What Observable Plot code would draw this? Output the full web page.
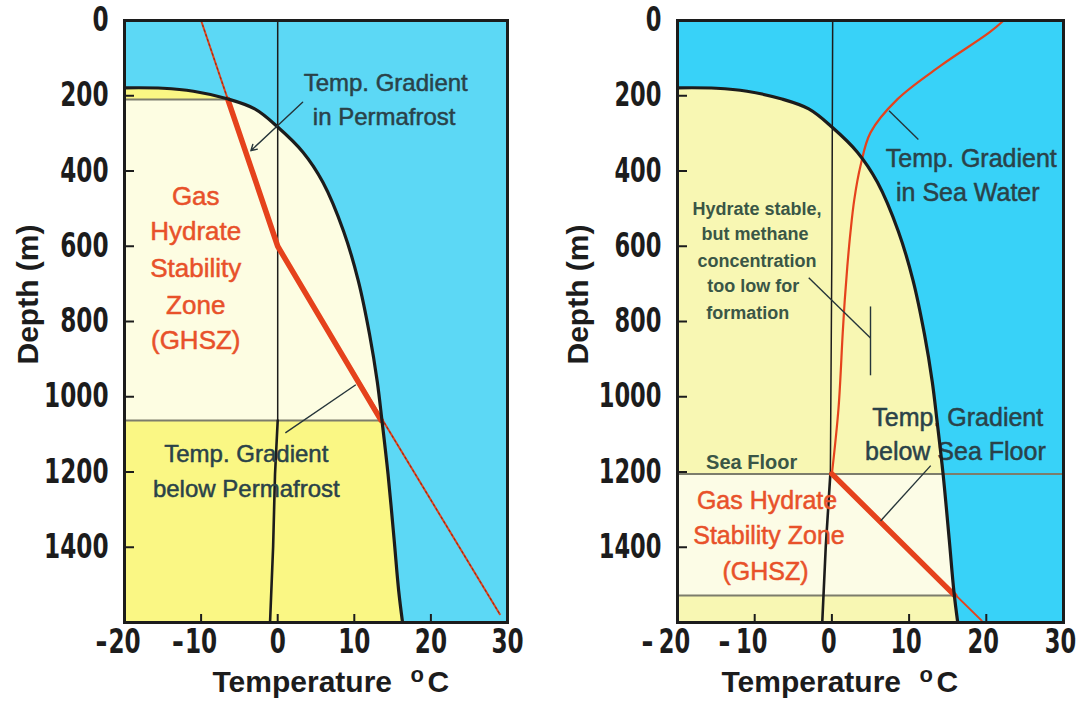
<!DOCTYPE html>
<html><head><meta charset="utf-8">
<script src="https://cdn.jsdelivr.net/npm/d3@7"></script>
<script src="https://cdn.jsdelivr.net/npm/@observablehq/plot@0.6"></script>
<style>
html,body{margin:0;padding:0;background:#fff;}
#wrap{display:flex;width:1082px;height:708px;}
#wrap svg{display:block;}
</style></head><body><div id="wrap"></div>
<script>
// ---------- data ----------
const xTicks = [-20, -10, 0, 10, 20, 30];
const yTicks = [0, 200, 400, 600, 800, 1000, 1200, 1400];

// hydrate phase boundary (temperature °C, depth m)
const phaseTemp  = [-20, -15, -11, -6.6, -3, 0, 3.3, 5.9, 8.6, 10.5, 12, 13, 13.6, 14.4, 15.2, 15.8, 16.3];
const phaseDepth = [179, 180, 188, 208, 235, 283, 350, 430, 560, 690, 835, 960, 1061, 1205, 1380, 1517, 1600];

// left: permafrost
const gradLTemp = [-10, 0, 29];
const gradLDepth = [0, 600, 1578];
const ghszLTemp = [-6.5, 0, 13.5];
const ghszLDepth = [210, 600, 1063];
const ghszLBounds = [210, 1063];
const zeroLUpTemp = [0, 0], zeroLUpDepth = [0, 1063];
const zeroLLowTemp = [0, -0.35, -0.6, -1.0], zeroLLowDepth = [1063, 1206, 1400, 1600];
const leadersL = [[1.0, 1096, 10.2, 968]];
const arrowsL = [[3.25, 217, -3.5, 346]];
const darkTextL = [["Temp. Gradient", 14.1, 168], ["in Permafrost", 13.9, 257], ["Temp. Gradient", -4.1, 1153], ["below Permafrost", -4.1, 1245]];
const redTextL = [["Gas", -10.7, 467], ["Hydrate", -10.7, 561], ["Stability", -10.7, 659], ["Zone", -10.7, 757], ["(GHSZ)", -10.7, 851]];

// right: marine
const swTemp  = [22.25, 20.45, 14.1, 8.5, 5.0, 3.7, 2.9, 2.4, 2.0, 1.67, 1.4, 0.86, 0];
const swDepth = [0, 31, 120, 209, 298, 387, 476, 564, 653, 742, 831, 1030, 1205];
const belowTemp = [0, 19.4], belowDepth = [1205, 1595];
const ghszRTemp = [0, 15.9], ghszRDepth = [1205, 1528];
const seaFloor = [1205];
const ghszRBase = [1528];
const zeroRUpTemp = [0.1, 0, -0.2], zeroRUpDepth = [0, 600, 1205];
const zeroRLowTemp = [-0.2, -0.8, -1.25], zeroRLowDepth = [1205, 1400, 1600];
const leadersR = [[11.2, 316, 7.4, 240], [-3.0, 684, 5.0, 844], [5.0, 760, 5.0, 943], [12.8, 1183, 6.3, 1330]];
const darkTextR = [["Temp. Gradient", 18.06, 369], ["in Sea Water", 17.6, 458], ["Temp. Gradient", 16.3, 1057], ["below Sea Floor", 16.0, 1148]];
const noteTextR = [["Hydrate stable,", -9.7, 502], ["but methane", -9.95, 569], ["concentration", -9.7, 640], ["too low for", -10.2, 707], ["formation", -10.9, 778]];
const seaFloorText = [["Sea Floor", -10.4, 1174]];
const redTextR = [["Gas Hydrate", -8.4, 1278], ["Stability Zone", -8.15, 1370], ["(GHSZ)", -8.6, 1465]];

// ---------- helpers ----------
const NUM = "'Liberation Sans Narrow','Arial Narrow','DejaVu Sans Condensed',sans-serif";
const SANS = "'Liberation Sans',Arial,Helvetica,sans-serif";
const INK = "#1c1c1c";
const DARK = "#2a4249";
const GREEN = "#3a5646";
const RED = "#E8512A";
const LINE_RED = "#E5421C";
const GRAY = "#7c7d6c";
const pts = (xs, ys) => xs.map((x, i) => ({x, y: ys[i]}));
const phase = pts(phaseTemp, phaseDepth);

function texts(arr, o) {
  return Plot.text(arr, {x: d => d[1], y: d => d[2], text: d => d[0], ...o});
}

function axes(minusDx, labelDx, depthDx, tempDx) {
  const num = {fontSize: 33, fontWeight: "bold", fontFamily: NUM};
  return [
    Plot.frame({stroke: INK, strokeWidth: 3}),
    Plot.axisY({ticks: yTicks, tickSize: -10, tickPadding: 26, tickFormat: d => String(d),
      ...num, color: INK, strokeWidth: 2, label: null}),
    Plot.axisX({ticks: xTicks, tickSize: -8, tickFormat: () => "", color: INK, strokeWidth: 2, label: null}),
    Plot.axisX({ticks: xTicks, tickSize: 0, tickPadding: 7, dx: labelDx, tickFormat: d => String(Math.abs(d)),
      ...num, color: INK, label: null}),
    Plot.text(xTicks.filter(d => d < 0), {x: d => d, frameAnchor: "bottom", text: () => "-",
      textAnchor: "end", lineAnchor: "top", dx: minusDx + labelDx, dy: 7, ariaLabel: "minus",
      ...num, fill: INK}),
    Plot.text(["Depth (m)"], {frameAnchor: "left", text: d => d, rotate: -90, textAnchor: "middle",
      dx: depthDx, dy: -27, fontSize: 30, fontWeight: "bold", fontFamily: SANS, fill: INK}),
    Plot.text(["Temperature"], {frameAnchor: "bottom", text: d => d, textAnchor: "start", lineAnchor: "bottom",
      dx: tempDx, dy: 69, fontSize: 30, fontWeight: "bold", fontFamily: SANS, fill: INK}),
    Plot.text(["o"], {frameAnchor: "bottom", text: d => d, textAnchor: "start", lineAnchor: "bottom",
      dx: tempDx + 198, dy: 59, fontSize: 22, fontWeight: "bold", fontFamily: SANS, fill: INK}),
    Plot.text(["C"], {frameAnchor: "bottom", text: d => d, textAnchor: "start", lineAnchor: "bottom",
      dx: tempDx + 215, dy: 69, fontSize: 30, fontWeight: "bold", fontFamily: SANS, fill: INK})
  ];
}

// narrow the heavy tick numerals (the reference uses a condensed face) without moving them
function condense(svg, k) {
  const labels = ["y-axis tick label", "x-axis tick label", "minus"];
  d3.select(svg).selectAll("g").filter(function () {
    return labels.includes(this.getAttribute("aria-label"));
  }).selectAll("text").each(function () {
    const w = this.getComputedTextLength();
    if (w > 0) {
      this.setAttribute("textLength", (w * k).toFixed(2));
      this.setAttribute("lengthAdjust", "spacingAndGlyphs");
    }
  });
}

const common = {
  width: 541, height: 708, marginTop: 20, marginBottom: 86,
  x: {domain: [-20, 30]},
  y: {domain: [0, 1600], reverse: true},
  style: {background: "transparent", overflow: "visible"}
};
const semi = c => ({fill: c, stroke: c, strokeWidth: 0.5});

// ---------- left panel ----------
const blueL = "#5CD8F5", yellowL = "#FAF784", creamL = "#FDFDE2";
const left = Plot.plot({
  ...common, marginLeft: 124, marginRight: 34,
  marks: [
    Plot.frame({fill: blueL}),
    Plot.areaX(phase, {y: "y", x1: -20, x2: "x", fill: yellowL, curve: "catmull-rom"}),
    Plot.rect([ghszLBounds], {x1: -20, x2: 30, y1: d => d[0], y2: d => d[1], fill: creamL}),
    Plot.ruleY(ghszLBounds, {x1: -20, x2: 30, stroke: GRAY, strokeWidth: 2}),
    Plot.areaX(phase, {y: "y", x1: "x", x2: 30, fill: blueL, curve: "catmull-rom"}),
    Plot.line(pts(zeroLUpTemp, zeroLUpDepth), {x: "x", y: "y", stroke: INK, strokeWidth: 1.5}),
    Plot.line(pts(zeroLLowTemp, zeroLLowDepth), {x: "x", y: "y", stroke: INK, strokeWidth: 2.6}),
    Plot.line(pts(gradLTemp, gradLDepth), {x: "x", y: "y", stroke: LINE_RED, strokeWidth: 2}),
    Plot.line(pts(gradLTemp, gradLDepth), {x: "x", y: "y", stroke: "#5b2418", strokeWidth: 1.2, strokeDasharray: "1.5,3.5", strokeOpacity: 0.6}),
    Plot.line(pts(ghszLTemp, ghszLDepth), {x: "x", y: "y", stroke: LINE_RED, strokeWidth: 5.5, strokeLinecap: "round"}),
    texts(darkTextL, {...semi(DARK), fontSize: 24, fontFamily: SANS}),
    texts(redTextL, {...semi(RED), fontSize: 26, fontFamily: SANS}),
    Plot.line(phase, {x: "x", y: "y", stroke: INK, strokeWidth: 3.2, curve: "catmull-rom"}),
    Plot.link(leadersL, {x1: d => d[0], y1: d => d[1], x2: d => d[2], y2: d => d[3], stroke: "#26353a", strokeWidth: 1.4}),
    Plot.arrow(arrowsL, {x1: d => d[0], y1: d => d[1], x2: d => d[2], y2: d => d[3], stroke: "#26353a", strokeWidth: 1.4, headLength: 7, bend: 0}),
    ...axes(-17, 0, -96, -103.5)
  ]
});

// ---------- right panel ----------
const blueR = "#38D2F8", yellowR = "#F8F7B3", creamR = "#FCFCE6";
const right = Plot.plot({
  ...common, marginLeft: 136, marginRight: 19,
  marks: [
    Plot.frame({fill: blueR}),
    Plot.areaX(phase, {y: "y", x1: -20, x2: "x", fill: yellowR, curve: "catmull-rom"}),
    Plot.rect([[seaFloor[0], ghszRBase[0]]], {x1: -20, x2: 30, y1: d => d[0], y2: d => d[1], fill: creamR}),
    Plot.ruleY(ghszRBase, {x1: -20, x2: 30, stroke: GRAY, strokeWidth: 2}),
    Plot.areaX(phase, {y: "y", x1: "x", x2: 30, fill: blueR, curve: "catmull-rom"}),
    Plot.ruleY(seaFloor, {x1: -20, x2: 30, stroke: GRAY, strokeWidth: 2}),
    Plot.line(pts(zeroRUpTemp, zeroRUpDepth), {x: "x", y: "y", stroke: INK, strokeWidth: 1.5}),
    Plot.line(pts(zeroRLowTemp, zeroRLowDepth), {x: "x", y: "y", stroke: INK, strokeWidth: 2.6}),
    Plot.line(pts(swTemp, swDepth), {x: "x", y: "y", stroke: LINE_RED, strokeWidth: 2.2, curve: "catmull-rom"}),
    Plot.line(pts(belowTemp, belowDepth), {x: "x", y: "y", stroke: LINE_RED, strokeWidth: 2}),
    Plot.line(pts(ghszRTemp, ghszRDepth), {x: "x", y: "y", stroke: LINE_RED, strokeWidth: 5.5, strokeLinecap: "round"}),
    texts(darkTextR, {...semi(DARK), fontSize: 25, fontFamily: SANS}),
    texts(noteTextR, {fill: GREEN, fontSize: 18, fontWeight: "bold", fontFamily: SANS}),
    texts(seaFloorText, {fill: GREEN, fontSize: 20, fontWeight: "bold", fontFamily: SANS}),
    texts(redTextR, {...semi(RED), fontSize: 25, fontFamily: SANS}),
    Plot.line(phase, {x: "x", y: "y", stroke: INK, strokeWidth: 3.2, curve: "catmull-rom"}),
    Plot.link(leadersR, {x1: d => d[0], y1: d => d[1], x2: d => d[2], y2: d => d[3], stroke: "#26353a", strokeWidth: 1.4}),
    ...axes(-21, -3, -99, -149)
  ]
});

const wrap = document.getElementById("wrap");
wrap.appendChild(left);
wrap.appendChild(right);
condense(left, 0.78);
condense(right, 0.76);
</script>
</body></html>
